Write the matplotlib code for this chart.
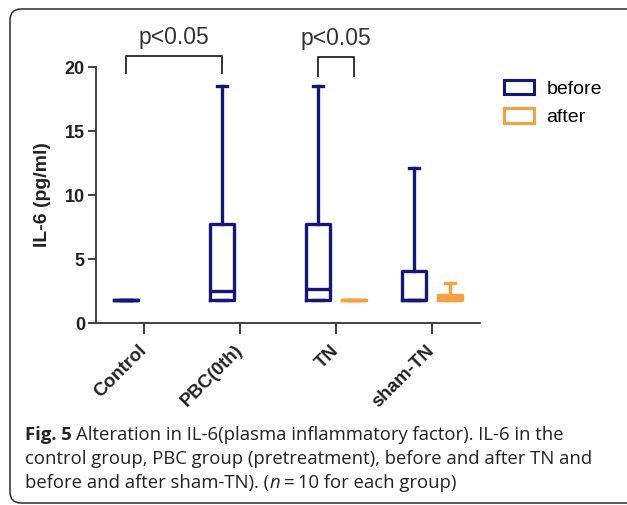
import matplotlib
matplotlib.use("Agg")
from matplotlib import pyplot as plt
from matplotlib.patches import Patch, FancyBboxPatch
from matplotlib.transforms import IdentityTransform

# box stats (pg/ml)
groups = ['Control', 'PBC(0th)', 'TN', 'sham-TN']
before_low = [1.8, 1.8, 1.8, 1.8]
before_q1 = [1.8, 1.8, 1.8, 1.8]
before_med = [1.8, 2.5, 2.65, 1.8]
before_q3 = [1.8, 7.7, 7.7, 4.1]
before_high = [1.8, 18.5, 18.5, 12.1]

after_idx = [2, 3]
after_low = [1.8, 1.8]
after_q1 = [1.8, 1.8]
after_med = [1.8, 2.0]
after_q3 = [1.8, 2.2]
after_high = [1.8, 3.1]

navy = '#15157e'
orange = '#f8a03e'
grey = '#333333'

plt.rcParams['font.family'] = ['Liberation Sans', 'DejaVu Sans']

fig = plt.figure(figsize=(6.27, 5.05), dpi=100)
ax = fig.add_axes([96 / 627, 182 / 505, 384 / 627, 256 / 505])

off = 0.185
wid = 0.25


def stats(lo, q1, med, q3, hi):
    return [dict(whislo=a, q1=b, med=c, q3=d, whishi=e, fliers=[])
            for a, b, c, d, e in zip(lo, q1, med, q3, hi)]


def draw(st, pos, col):
    ax.bxp(st, positions=pos, widths=wid, showfliers=False, manage_ticks=False,
           boxprops=dict(color=col, lw=2.4),
           medianprops=dict(color=col, lw=2.4),
           whiskerprops=dict(color=col, lw=2.4),
           capprops=dict(color=col, lw=2.4), capwidths=0.1)


pos_before = [i - off for i in range(len(groups))]
pos_after = [i + off for i in after_idx]
draw(stats(before_low, before_q1, before_med, before_q3, before_high), pos_before, navy)
draw(stats(after_low, after_q1, after_med, after_q3, after_high), pos_after, orange)

ax.set_xlim(-0.5, 3.5)
ax.set_ylim(0, 20)
ax.set_yticks([0, 5, 10, 15, 20])
ax.set_xticks(range(len(groups)))
ax.set_xticklabels(groups, rotation=45, ha='right', va='center', rotation_mode='anchor',
                   fontsize=13.5, fontweight='bold', color='#222222')
for t in ax.get_yticklabels():
    t.set_fontsize(13)
    t.set_fontweight('bold')
    t.set_color('#222222')
ax.tick_params(axis='y', length=6, width=1.3, color=grey, pad=2)
ax.tick_params(axis='x', length=8, width=1.3, color=grey, pad=10)
for s in ['top', 'right']:
    ax.spines[s].set_visible(False)
for s in ['left', 'bottom']:
    ax.spines[s].set_linewidth(1.3)
    ax.spines[s].set_color(grey)
ax.set_ylabel('IL-6 (pg/ml)', fontsize=14, fontweight='bold', color='#222222', labelpad=10)

# significance brackets
brackets = [(pos_before[0], pos_before[1], 20.85, 19.5),
            (pos_before[2], pos_after[0], 20.8, 19.3)]
for x1, x2, top, bot in brackets:
    ax.plot([x1, x1, x2, x2], [bot, top, top, bot], color=grey, lw=1.4, clip_on=False)
    ax.text((x1 + x2) / 2, top + 0.55, 'p<0.05', ha='center', va='bottom',
            fontsize=16.5, color='#333333', clip_on=False)

handles = [Patch(facecolor='white', edgecolor=navy, lw=2.2, label='before'),
           Patch(facecolor='white', edgecolor=orange, lw=2.2, label='after')]
fig.legend(handles=handles, loc='upper left', bbox_to_anchor=(496 / 627, 1 - 72 / 505),
           frameon=False, fontsize=14, handlelength=1.55, handleheight=0.75,
           handletextpad=0.65, labelspacing=0.55, borderaxespad=0)

# caption
cap_lines = ['Alteration in IL-6(plasma inflammatory factor). IL-6 in the',
             'control group, PBC group (pretreatment), before and after TN and',
             'before and after sham-TN). (']
cap_font = ['Open Sans', 'DejaVu Sans']
fs = 13.3
t0 = fig.text(25 / 627, 1 - 435 / 505, 'Fig. 5', fontsize=fs, fontweight='bold',
              family=cap_font, va='center', color='#222222')
fig.canvas.draw()
r = fig.canvas.get_renderer()
bb = t0.get_window_extent(r)
fig.text((bb.x1 + 4) / 627, 1 - 435 / 505, cap_lines[0], fontsize=fs, family=cap_font,
         va='center', color='#222222')
fig.text(25 / 627, 1 - 459 / 505, cap_lines[1], fontsize=fs, family=cap_font,
         va='center', color='#222222')
t3 = fig.text(25 / 627, 1 - 483 / 505, cap_lines[2], fontsize=fs, family=cap_font,
              va='center', color='#222222')
fig.canvas.draw()
bb = t3.get_window_extent(r)
t4 = fig.text(bb.x1 / 627, 1 - 483 / 505, 'n', fontsize=fs, family=cap_font,
              style='italic', va='center', color='#222222')
fig.canvas.draw()
bb = t4.get_window_extent(r)
fig.text((bb.x1 + 1) / 627, 1 - 483 / 505, '\u2009=\u200910 for each group)', fontsize=fs,
         family=cap_font, va='center', color='#222222')

# rounded frame running off the right edge
frame = FancyBboxPatch((10, 2), 700, 494, boxstyle='round,pad=0,rounding_size=11',
                       transform=IdentityTransform(), fill=False, ec='#2a2a2a', lw=1.1)
fig.patches.append(frame)

fig.savefig('out.png', dpi=100)
